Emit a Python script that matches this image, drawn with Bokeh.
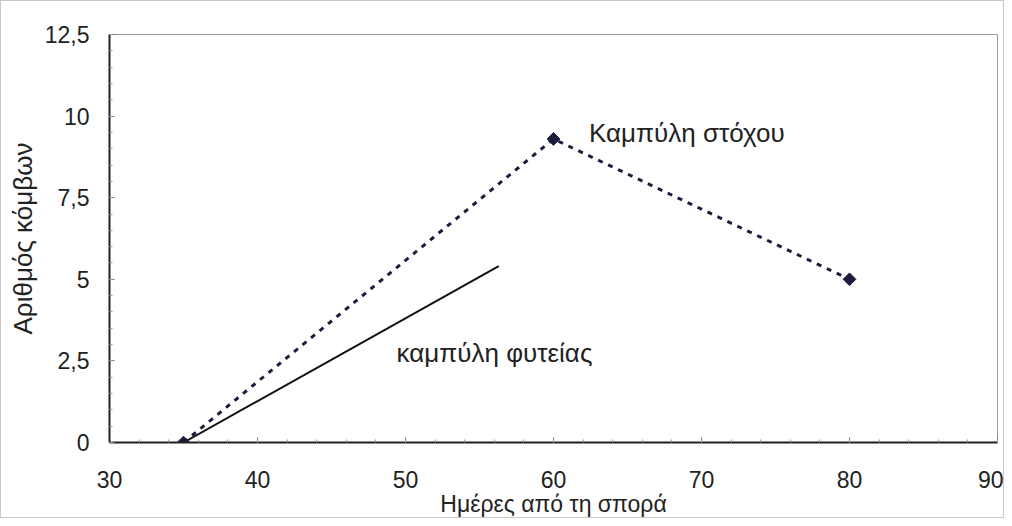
import math
from bokeh.plotting import figure
from bokeh.models import FixedTicker, Range1d, Label
from bokeh.embed import file_html
from bokeh.resources import INLINE

# Data
target_days = [35, 60, 80]
target_nodes = [0.0, 9.3, 5.0]
plant_days = [35, 56.3]
plant_nodes = [0.0, 5.4]

x_ticks = [30, 40, 50, 60, 70, 80, 90]
y_ticks = [0, 2.5, 5, 7.5, 10, 12.5]
y_tick_labels = {0: "0", 2.5: "2,5", 5: "5", 7.5: "7,5", 10: "10", 12.5: "12,5"}

FONT = "Liberation Sans"
INK = "#1c1c3c"

p = figure(width=1004, height=518, output_backend="svg", toolbar_location=None,
           x_range=Range1d(30, 90), y_range=Range1d(0, 12.5),
           min_border_left=108, min_border_right=8, min_border_top=33, min_border_bottom=77)
p.styles = {"border": "1px solid #c8c8c8"}
p.grid.visible = False
p.outline_line_color = "#9a9a9a"
p.outline_line_width = 1

p.xaxis.ticker = FixedTicker(ticks=x_ticks, minor_ticks=list(range(30, 91, 2)))
p.yaxis.ticker = FixedTicker(ticks=y_ticks, minor_ticks=[i * 0.5 for i in range(26)])
p.yaxis.major_label_overrides = {k: v for k, v in y_tick_labels.items()}

for ax in (p.xaxis[0], p.yaxis[0]):
    ax.axis_line_color = "#222222"
    ax.axis_line_width = 2
    ax.major_tick_in = 5
    ax.major_tick_out = 0
    ax.minor_tick_in = 3
    ax.minor_tick_out = 0
    ax.major_tick_line_color = "#777777"
    ax.minor_tick_line_color = "#999999"
    ax.major_label_text_font = FONT
    ax.major_label_text_font_size = "23px"
    ax.major_label_text_color = "#222222"
    ax.axis_label_text_font = FONT
    ax.axis_label_text_font_style = "normal"
    ax.axis_label_text_color = "#222222"

p.xaxis.axis_label = "Ημέρες από τη σπορά"
p.yaxis.axis_label = "Αριθμός κόμβων"
p.xaxis.axis_label_text_font_size = "23px"
p.yaxis.axis_label_text_font_size = "26px"
p.xaxis.major_label_standoff = 28
p.yaxis.major_label_standoff = 20
p.xaxis.axis_label_standoff = 0
p.yaxis.axis_label_standoff = 4

# plant curve (solid)
p.line(plant_days, plant_nodes, line_color="#111111", line_width=2)
# target curve (dotted) with diamond markers
p.line(target_days, target_nodes, line_color=INK, line_width=3, line_dash="5 6")
p.scatter(target_days, target_nodes, marker="square", size=9, angle=math.pi / 4,
          fill_color=INK, line_color=INK)

p.add_layout(Label(x=62.4, y=9.47, text="Καμπύλη στόχου", text_font=FONT,
                   text_font_size="26px", text_color="#222222", text_baseline="middle"))
p.add_layout(Label(x=49.4, y=2.73, text="καμπύλη φυτείας", text_font=FONT,
                   text_font_size="26px", text_color="#222222", text_baseline="middle"))

open("out.html", "w").write(file_html(p, INLINE))
